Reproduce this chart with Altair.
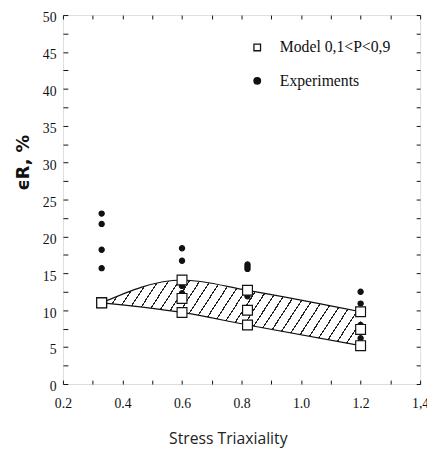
import altair as alt
import pandas as pd

# ---------------- data ----------------
triax = [0.33, 0.6, 0.82, 1.2]
model_low = [11.0, 9.7, 8.0, 5.2]
model_mid = [11.0, 11.6, 10.0, 7.4]
model_high = [11.0, 14.1, 12.7, 9.8]

exp_x = [0.33, 0.33, 0.33, 0.33,
         0.6, 0.6, 0.6, 0.6,
         0.82, 0.82, 0.82, 0.82,
         1.2, 1.2, 1.2, 1.2]
exp_y = [23.1, 21.7, 18.2, 15.7,
         18.4, 16.7, 13.3, 12.3,
         16.2, 15.9, 15.6, 11.9,
         12.5, 10.9, 8.0, 6.2]

series_names = ["Model 0,1<P<0,9", "Experiments"]
x_tick_values = [0.2, 0.3, 0.4, 0.5, 0.6, 0.7, 0.8, 0.9, 1.0, 1.1, 1.2, 1.3, 1.4]
x_label_values = [0.2, 0.4, 0.6, 0.8, 1.0, 1.2, 1.4]
x_label_texts = ["0.2", "0.4", "0.6", "0.8", "1.0", "1.2", "1,4"]
y_tick_values = [i * 2.5 for i in range(21)]

# ---------------- tables ----------------
band = pd.DataFrame({"x": triax, "lo": model_low, "hi": model_high})
bounds = pd.concat([
    pd.DataFrame({"x": triax, "y": model_low, "b": "low"}),
    pd.DataFrame({"x": triax, "y": model_high, "b": "high"}),
])
exp_df = pd.DataFrame({"x": exp_x, "y": exp_y, "series": series_names[1]})
mod_df = pd.DataFrame({"x": triax * 3, "y": model_low + model_mid + model_high,
                       "series": series_names[0]})

# x label expression
expr = "''"
for v, t in reversed(list(zip(x_label_values, x_label_texts))):
    expr = f"abs(datum.value - {v}) < 0.01 ? '{t}' : ({expr})"

xs = alt.Scale(domain=[0.2, 1.4], nice=False, zero=False)
ys = alt.Scale(domain=[0, 50], nice=False, zero=False)

SERIF = "Liberation Serif"
SANS = "Open Sans"

# hatch made with a striped linear gradient
N = 29
P = 1.0 / N
w = 0.0045
stops = []
for k in range(N):
    s = k * P + P / 2
    stops += [alt.GradientStop(offset=s - w / 2, color="white"),
              alt.GradientStop(offset=s - w / 2, color="#222222"),
              alt.GradientStop(offset=s + w / 2, color="#222222"),
              alt.GradientStop(offset=s + w / 2, color="white")]
hatch = alt.Gradient(gradient="linear", stops=stops, x1=0, y1=0, x2=1.134, y2=0.187)

area = alt.Chart(band).mark_area(fill=hatch, opacity=1, interpolate="monotone").encode(
    x=alt.X("x:Q", scale=xs, axis=alt.Axis(
        orient="bottom", values=x_tick_values, labelExpr=expr, offset=-4, tickSize=4,
        domain=False, grid=False, labelPadding=13, labelFlush=False, labelOverlap=False,
        labelFont=SERIF, labelFontSize=14, labelColor="#111", tickColor="#111",
        title="Stress Triaxiality", titleFont=SANS, titleFontSize=16, titleFontWeight="normal",
        titleColor="#222", titleX=168, titleY=65, titleAlign="center", titleBaseline="alphabetic")),
    y=alt.Y("lo:Q", scale=ys, axis=alt.Axis(
        orient="left", values=y_tick_values, labelExpr="datum.value % 5 == 0 ? datum.label : ''",
        offset=-5, tickSize=5, domain=False, grid=False, labelPadding=7, labelOffset=3,
        labelOverlap=False, labelFont=SERIF, labelFontSize=14, labelColor="#111", tickColor="#111",
        title="ϵR, %", titleFont="DejaVu Sans", titleFontSize=18, titleFontWeight="bold",
        titleColor="#111", titleAngle=270, titleX=-45, titleY=150, titleAlign="center",
        titleBaseline="middle")),
    y2="hi:Q",
)

lines = alt.Chart(bounds).mark_line(color="#111", strokeWidth=1.2, interpolate="monotone").encode(
    x=alt.X("x:Q", scale=xs, axis=alt.Axis(
        orient="top", values=x_tick_values, labels=False, offset=-4, tickSize=4,
        domain=False, grid=False, title=None, tickColor="#111")),
    y=alt.Y("y:Q", scale=ys, axis=alt.Axis(
        orient="right", values=y_tick_values, labels=False, offset=-4, tickSize=4,
        domain=False, grid=False, title=None, tickColor="#111")),
    detail="b:N",
)

shape_scale = alt.Scale(domain=series_names, range=["square", "circle"])
fill_scale = alt.Scale(domain=series_names, range=["white", "#111"])
stroke_scale = alt.Scale(domain=series_names, range=["#111", "#111"])
leg = alt.Legend(orient="none", legendX=190, legendY=25, title=None, labelFont=SERIF,
                 labelFontSize=16, labelFontWeight="normal", labelColor="#111",
                 symbolSize=45, rowPadding=18, labelOffset=15, symbolStrokeWidth=1.3)


def point_layer(df, size):
    return alt.Chart(df).mark_point(filled=False, strokeWidth=1.2,
                                    opacity=1, size=size).encode(
        x=alt.X("x:Q", scale=xs, axis=None),
        y=alt.Y("y:Q", scale=ys, axis=None),
        shape=alt.Shape("series:N", scale=shape_scale, legend=leg),
        fill=alt.Fill("series:N", scale=fill_scale, legend=leg),
        stroke=alt.Stroke("series:N", scale=stroke_scale, legend=leg),
    )


circles = point_layer(exp_df, 28)
squares = point_layer(mod_df, 100)

chart = alt.layer(area, lines, circles, squares).resolve_axis(
    x="independent", y="independent").properties(
    width=364, height=376,
    padding={"left": 56, "top": 3, "right": 7, "bottom": 61},
    autosize=alt.AutoSizeParams(type="none"),
).configure_view(stroke="#111", strokeWidth=1.3).configure(background="white")

chart.save("out.html", embed_options={"renderer": "svg", "actions": False})
